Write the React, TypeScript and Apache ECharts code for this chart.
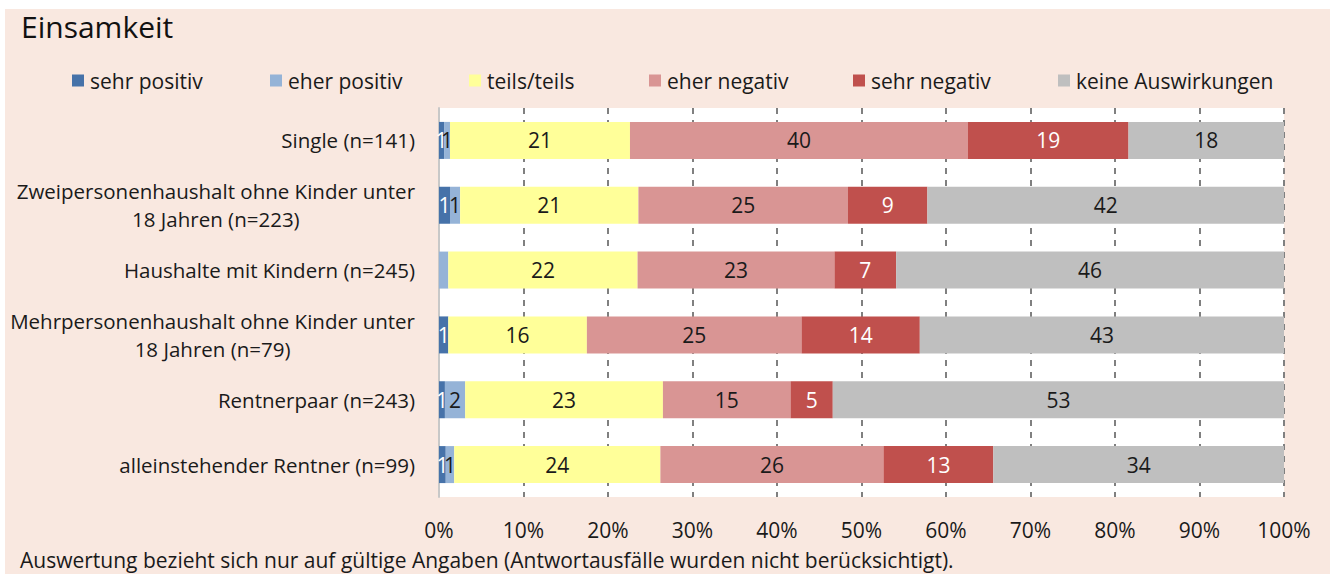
import React, { useEffect, useRef } from "react";
import * as echarts from "echarts";

const categories = [
  "Single (n=141)",
  "Zweipersonenhaushalt ohne Kinder unter\n18 Jahren (n=223)",
  "Haushalte mit Kindern (n=245)",
  "Mehrpersonenhaushalt ohne Kinder unter\n18 Jahren (n=79)",
  "Rentnerpaar (n=243)",
  "alleinstehender Rentner (n=99)",
];

const seriesNames = [
  "sehr positiv",
  "eher positiv",
  "teils/teils",
  "eher negativ",
  "sehr negativ",
  "keine Auswirkungen",
];

const sehrPositiv = [0.6, 1.3, 0, 1.1, 0.7, 0.8];
const eherPositiv = [0.7, 1.2, 1.1, 0, 2.4, 1.0];
const teilsTeils = [21.3, 21.1, 22.4, 16.4, 23.4, 24.4];
const eherNegativ = [40.0, 24.8, 23.3, 25.4, 15.1, 26.4];
const sehrNegativ = [19.0, 9.4, 7.3, 14.0, 5.0, 13.0];
const keineAuswirkungen = [18.4, 42.2, 45.9, 43.1, 53.4, 34.4];

// cells whose value label is not printed in the original (series index, category index)
const hiddenLabels = [[1, 2]];

const xTicks = [0, 10, 20, 30, 40, 50, 60, 70, 80, 90, 100];

const colors = ["#4672a9", "#95b3d7", "#ffff99", "#d99594", "#c0504d", "#bfbfbf"];
const labelColors = ["#ffffff", "#1a1a1a", "#1a1a1a", "#1a1a1a", "#ffffff", "#1a1a1a"];
const legendLeft = [72, 270, 469, 649, 853, 1058];

const FONT = "'Open Sans', sans-serif";

export default function App() {
  const ref = useRef<HTMLDivElement>(null);

  useEffect(() => {
    document.body.style.margin = "0";
    if (!ref.current) return;
    const chart = echarts.init(ref.current, undefined, { renderer: "svg" });
    const values = [sehrPositiv, eherPositiv, teilsTeils, eherNegativ, sehrNegativ, keineAuswirkungen];

    const series = seriesNames.map((name, si) => ({
      name,
      type: "bar",
      stack: "total",
      barWidth: 37,
      itemStyle: { color: colors[si] },
      data: values[si].map((v, ci) => {
        const hide = hiddenLabels.some(([s, c]) => s === si && c === ci);
        return hide ? { value: v, label: { show: false } } : v;
      }),
      label: {
        show: true,
        position: "inside",
        color: labelColors[si],
        fontSize: 21,
        fontFamily: FONT,
        formatter: (p: any) => (p.value > 0 ? String(Math.round(p.value)) : ""),
      },
      emphasis: { disabled: true },
    }));

    const legends = seriesNames.map((name, i) => ({
      data: [{ name, icon: "rect" }],
      left: legendLeft[i],
      top: 70,
      padding: 0,
      itemWidth: 12,
      itemHeight: 12,
      itemGap: 0,
      selectedMode: false,
      textStyle: { fontSize: 21, color: "#1a1a1a", fontFamily: FONT, padding: [0, 0, 0, 1] },
    }));

    chart.setOption({
      animation: false,
      backgroundColor: "#ffffff",
      textStyle: { fontFamily: FONT },
      graphic: [
        {
          type: "rect",
          left: 5,
          top: 9,
          shape: { width: 1325, height: 565 },
          style: { fill: "#f9e8e0" },
          z: -10,
        },
        {
          type: "text",
          left: 21,
          top: 11,
          style: { text: "Einsamkeit", fontSize: 30, fill: "#111", fontFamily: FONT },
        },
        {
          type: "text",
          left: 20,
          top: 549,
          style: {
            text: "Auswertung bezieht sich nur auf gültige Angaben (Antwortausfälle wurden nicht berücksichtigt).",
            fontSize: 21,
            fill: "#1a1a1a",
            fontFamily: FONT,
          },
        },
      ],
      legend: legends,
      grid: {
        left: 439,
        right: 46,
        top: 108,
        bottom: 77,
        show: true,
        backgroundColor: "#ffffff",
        borderWidth: 0,
      },
      xAxis: {
        type: "value",
        min: xTicks[0],
        max: xTicks[xTicks.length - 1],
        interval: 10,
        axisLine: { show: false },
        axisTick: { show: false },
        axisLabel: {
          formatter: "{value}%",
          fontSize: 21,
          color: "#1a1a1a",
          margin: 22,
          fontFamily: FONT,
        },
        splitLine: {
          show: true,
          lineStyle: { color: "#808080", width: 2, type: [6, 6] },
        },
      },
      yAxis: {
        type: "category",
        inverse: true,
        data: categories,
        axisLine: { show: true, lineStyle: { color: "#c8c8c8", width: 2 } },
        axisTick: { show: false },
        axisLabel: {
          margin: 24,
          fontSize: 20.5,
          color: "#1a1a1a",
          fontFamily: FONT,
          lineHeight: 28,
          formatter: (v: string) =>
            v
              .split("\n")
              .map((l) => `{c|${l}}`)
              .join("\n"),
          rich: {
            c: { align: "center", fontSize: 20.5, color: "#1a1a1a", fontFamily: FONT, lineHeight: 28 },
          },
        },
      },
      series,
    });

    return () => chart.dispose();
  }, []);

  return <div ref={ref} style={{ width: 1330, height: 574 }} />;
}
